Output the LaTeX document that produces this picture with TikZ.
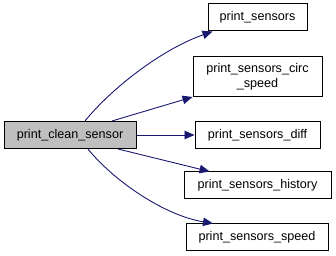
\documentclass[tikz,border=0pt]{standalone}
\usepackage{fontspec}
\setmainfont{Liberation Sans}
\usetikzlibrary{arrows.meta}
\definecolor{edgeblue}{HTML}{191970}
\definecolor{nodegray}{HTML}{BFBFBF}
\begin{document}
\begin{tikzpicture}[x=1pt,y=1pt,
  fnbox/.style={draw=black,line width=1pt,fill=white,inner sep=0pt,align=center,
    font=\fontsize{12.6}{15}\selectfont,minimum height=27pt},
  call/.style={draw=edgeblue,line width=0.9pt,-{Triangle[length=10pt,width=8.5pt]}}]
  \useasboundingbox (0,0) rectangle (336,256);
  % caller
  \node[fnbox,fill=nodegray,minimum width=132pt] (clean) at (70,121) {print\_clean\_sensor};
  % callees
  \node[fnbox,minimum width=99pt] (sensors) at (257.5,238.5) {print\_sensors};
  \node[fnbox,minimum width=129pt,minimum height=40pt] (circ) at (257.5,179) {print\_sensors\_circ\\\_speed};
  \node[fnbox,minimum width=125pt] (diff) at (257.5,121) {print\_sensors\_diff};
  \node[fnbox,minimum width=147pt] (history) at (257.5,70.5) {print\_sensors\_history};
  \node[fnbox,minimum width=142pt] (speed) at (257,18.5) {print\_sensors\_speed};
  % calls
  \draw[call] ([xshift=15pt]clean.north) .. controls (110,166) and (160,206) .. ([xshift=-45pt]sensors.south);
  \draw[call] ([xshift=42pt]clean.north) -- ([yshift=-20pt]circ.west);
  \draw[call] (clean.east) -- (diff.west);
  \draw[call] ([xshift=48pt]clean.south) -- ([xshift=-48pt]history.north);
  \draw[call] ([xshift=18pt]clean.south) .. controls (113,76) and (163,41) .. ([xshift=-44pt]speed.north);
\end{tikzpicture}
\end{document}
